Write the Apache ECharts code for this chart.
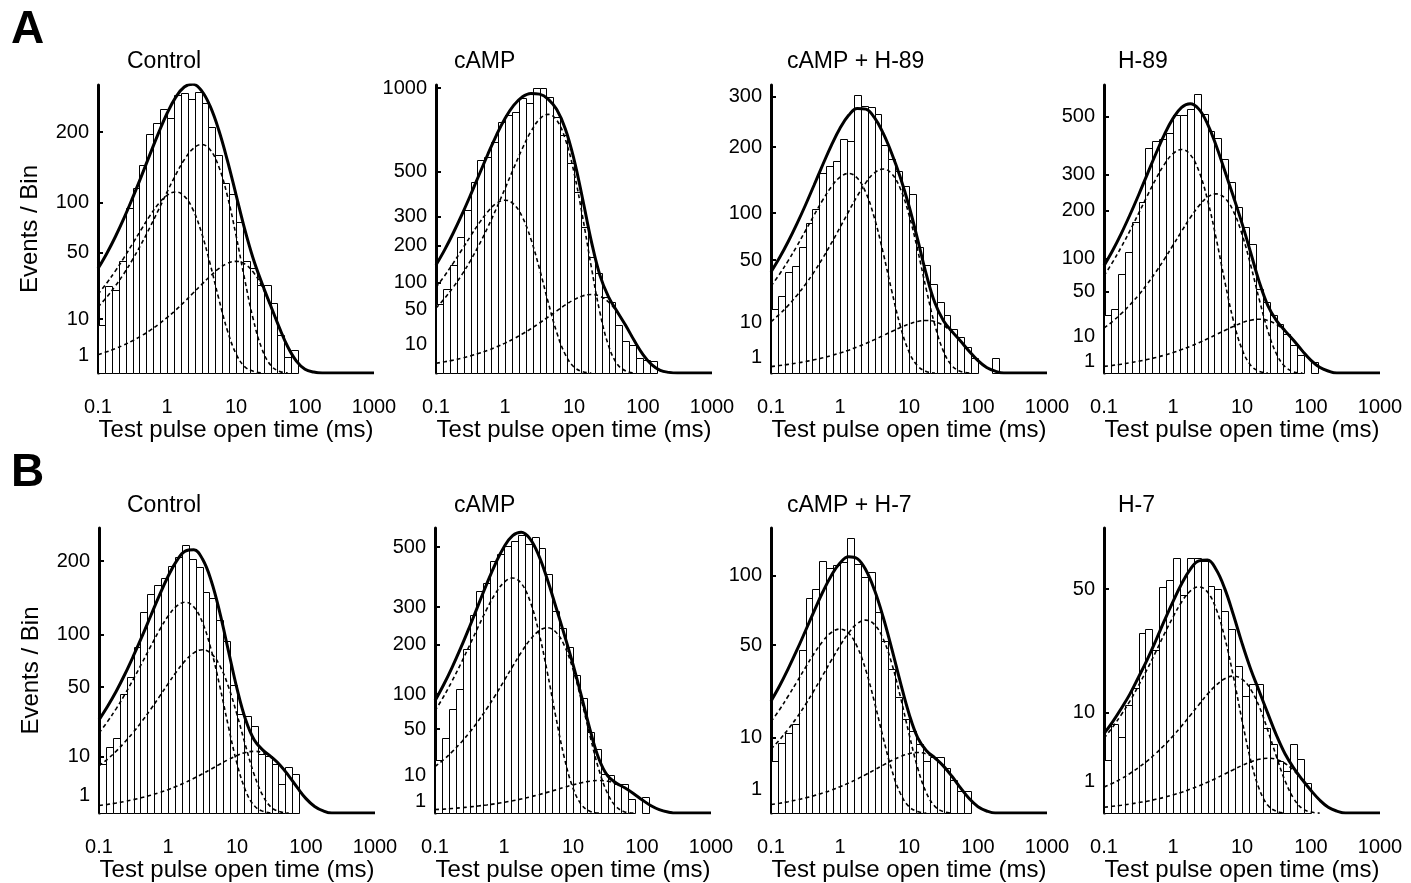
<!DOCTYPE html>
<html><head><meta charset="utf-8">
<script src="https://cdn.jsdelivr.net/npm/echarts/dist/echarts.min.js"></script>
<style>html,body{margin:0;padding:0;background:#fff}#c{width:1411px;height:883px}</style>
</head><body><div id="c"></div>
<script>
// ---------- DATA ----------
// histogram: 10 log-spaced bins per decade, first bin starts at 0.1 ms
const binStart = 0.1;
const binsPerDecade = 10;
const xTickLabels = [0.1, 1, 10, 100, 1000];
// fitted curves read at 1/8-decade steps
const curveTimes = [0.1, 0.1334, 0.1778, 0.2371, 0.3162, 0.4217, 0.5623, 0.7499, 1, 1.334, 1.778, 2.371, 3.162, 4.217, 5.623, 7.499, 10, 13.34, 17.78, 23.71, 31.62, 42.17, 56.23, 74.99, 100, 133.4, 177.8, 237.1, 316.2, 421.7, 562.3, 749.9, 1000];

const titlesA = ['Control', 'cAMP', 'cAMP + H-89', 'H-89'];
const titlesB = ['Control', 'cAMP', 'cAMP + H-7', 'H-7'];

// A: Control
const a1Ticks = [1, 10, 50, 100, 200];
const a1Max = 286;
const a1Bars = [8, 26, 24, 43, 94, 118, 149, 197, 216, 240, 224, 267, 270, 259, 273, 251, 209, 164, 124, 111, 79, 43, 38, 27, 27, 17, 4.9, 0.9, 1.8];
const a1Total = [37.6, 49.1, 63.8, 82.4, 105.4, 132.6, 164.0, 198.0, 232.2, 261.9, 282.1, 287.5, 274.9, 245.4, 203.6, 155.9, 109.8, 71.6, 45.0, 27.9, 15.8, 7.28, 2.37, 0.49, 0.05, 0.003, 0, 0, 0, 0, 0, 0, 0];
const a1Fast = [21.4, 27.8, 35.8, 45.7, 57.5, 70.8, 85.0, 98.4, 108.8, 113, 107.9, 92.3, 68.0, 41.1, 19.1, 6.24, 1.28, 0.14, 0.01, 0, 0, 0, 0, 0, 0, 0, 0, 0, 0, 0, 0, 0, 0];
const a1Mid = [15.0, 19.8, 26.0, 34.0, 44.3, 57.1, 72.8, 91.5, 112.8, 135.3, 156.8, 173.3, 180, 172.0, 147.0, 108.3, 65.5, 30.4, 9.94, 2.03, 0.22, 0.01, 0, 0, 0, 0, 0, 0, 0, 0, 0, 0, 0];
const a1Slow = [1.16, 1.54, 2.04, 2.71, 3.58, 4.73, 6.21, 8.13, 10.6, 13.6, 17.4, 21.9, 26.9, 32.3, 37.5, 41.4, 43, 41.1, 35.1, 25.9, 15.6, 7.27, 2.37, 0.49, 0.05, 0.003, 0, 0, 0, 0, 0, 0, 0];

// A: cAMP
const a2Ticks = [1, 10, 50, 100, 200, 300, 500, 1000];
const a2Max = 1022;
const a2Bars = [59, 86, 143, 228, 327, 450, 558, 576, 659, 778, 820, 841, 934, 896, 1003, 1003, 941, 809, 697, 541, 404, 263, 166, 122, 71, 62, 28, 13, 10, 2.8, 2.0, 1.8];
const a2Total = [143.6, 186.8, 241.5, 308.9, 390, 484.2, 588.3, 696.3, 798, 882.2, 938.8, 963.3, 958.2, 924.8, 855.1, 734.2, 562.5, 373.1, 215.3, 118.1, 71.4, 46.7, 27.75, 12.8, 4.2, 0.86, 0.09, 0.005, 0, 0, 0, 0, 0];
const a2Fast = [90.5, 116.7, 148.9, 187.1, 230.6, 276.7, 320.6, 354.4, 368, 351.5, 300.5, 221.4, 133.9, 62.2, 20.3, 4.16, 0.45, 0.02, 0, 0, 0, 0, 0, 0, 0, 0, 0, 0, 0, 0, 0, 0, 0];
const a2Mid = [51.9, 68.6, 90.6, 119.1, 155.8, 202.7, 261.4, 333.5, 419, 516.3, 619.6, 717.8, 793.5, 824, 787.2, 672.9, 495.8, 299.9, 139.3, 45.5, 9.3, 1.01, 0.05, 0, 0, 0, 0, 0, 0, 0, 0, 0, 0];
const a2Slow = [1.16, 1.54, 2.04, 2.72, 3.61, 4.79, 6.33, 8.35, 11.0, 14.4, 18.7, 24.1, 30.8, 38.6, 47.6, 57.1, 66.2, 73.2, 76, 72.6, 62.1, 45.7, 27.7, 12.8, 4.2, 0.86, 0.09, 0.005, 0, 0, 0, 0, 0];

// A: cAMP + H-89
const a3Ticks = [1, 10, 50, 100, 200, 300];
const a3Max = 325;
const a3Bars = [16, 23, 40, 44.5, 62, 88.5, 105, 156, 168, 176, 214, 210, 303, 280, 277, 263, 204, 180, 160, 137, 125, 62, 46, 31, 20, 13, 7.6, 5, 2.6, 0.9, 0, 0, 0.9];
const a3Total = [40.0, 52.2, 67.7, 87.1, 110.6, 138.5, 169.9, 203.1, 234.7, 260.1, 274.3, 272.8, 255.3, 225.3, 188.9, 149.8, 109.3, 69.9, 38.3, 19.3, 10.7, 6.7, 3.94, 1.83, 0.6, 0.12, 0.013, 0, 0, 0, 0, 0, 0];
const a3Fast = [29.5, 38.4, 49.5, 63.1, 79.3, 97.7, 117.3, 135.9, 150.2, 156, 149, 127.4, 93.9, 56.8, 26.4, 8.61, 1.76, 0.19, 0.01, 0, 0, 0, 0, 0, 0, 0, 0, 0, 0, 0, 0, 0, 0];
const a3Mid = [10.3, 13.6, 17.9, 23.6, 30.8, 40.1, 51.7, 66.0, 82.9, 102.1, 122.6, 142.0, 157, 163, 155.7, 133.1, 98.1, 59.3, 27.5, 9.0, 1.84, 0.2, 0.01, 0, 0, 0, 0, 0, 0, 0, 0, 0, 0];
const a3Slow = [0.16, 0.22, 0.29, 0.39, 0.51, 0.68, 0.90, 1.19, 1.56, 2.04, 2.66, 3.43, 4.37, 5.49, 6.77, 8.12, 9.41, 10.4, 10.8, 10.3, 8.82, 6.5, 3.93, 1.83, 0.60, 0.12, 0.013, 0, 0, 0, 0, 0, 0];

// A: H-89
const a4Ticks = [1, 10, 50, 100, 200, 300, 500];
const a4Max = 631;
const a4Bars = [26, 31, 74, 111, 173, 222, 384, 411, 417, 438, 506, 506, 530, 592, 510, 447, 419, 349, 277, 209, 162, 127, 54, 38, 26, 18.5, 11.7, 5.8, 2.6, 0, 0.9];
const a4Total = [87.6, 114.2, 147.9, 189.9, 240.4, 299.5, 364.9, 432.1, 493.2, 537.1, 551.9, 529.8, 472.5, 393.5, 311.1, 236.8, 170.3, 110.5, 63.2, 34.5, 20.8, 13.5, 8.01, 3.72, 1.21, 0.25, 0.03, 0, 0, 0, 0, 0, 0];
const a4Fast = [71.9, 93.5, 120.5, 153.8, 193.2, 238.1, 285.7, 331.0, 365.9, 380, 363, 310.3, 228.6, 138.3, 64.2, 21.0, 4.29, 0.47, 0.02, 0, 0, 0, 0, 0, 0, 0, 0, 0, 0, 0, 0, 0, 0];
const a4Mid = [15.4, 20.3, 26.8, 35.3, 46.1, 60.0, 77.4, 98.7, 124.1, 152.9, 183.5, 212.5, 235, 244, 233.1, 199.3, 146.8, 88.8, 41.2, 13.5, 2.76, 0.3, 0.01, 0, 0, 0, 0, 0, 0, 0, 0, 0, 0];
const a4Slow = [0.33, 0.44, 0.59, 0.79, 1.05, 1.39, 1.83, 2.42, 3.18, 4.16, 5.41, 6.98, 8.9, 11.2, 13.8, 16.5, 19.2, 21.2, 22, 21.0, 18.0, 13.2, 8.0, 3.72, 1.21, 0.25, 0.03, 0, 0, 0, 0, 0, 0];

// B: Control
const b1Ticks = [1, 10, 50, 100, 200];
const b1Max = 256;
const b1Bars = [7.6, 13.6, 17.8, 44.6, 58, 87, 128, 151, 164, 174.5, 193, 206, 227, 203, 190, 154, 146, 118, 93, 52, 31, 30, 24, 11, 10.4, 7.6, 2.7, 6.6, 4.8];
const b1Total = [27.4, 36.0, 46.8, 60.7, 78.0, 98.6, 122.7, 149.3, 176.3, 200.3, 216.2, 218.4, 203.2, 170.5, 127.0, 83.2, 48.8, 27.4, 16.8, 12.5, 9.9, 7.23, 4.37, 2.03, 0.66, 0.14, 0.015, 0, 0, 0, 0, 0, 0];
const b1Fast = [20.2, 26.5, 34.4, 44.4, 56.7, 71.2, 87.7, 105.3, 122, 134.8, 140, 133.7, 114.3, 84.2, 50.9, 23.7, 7.73, 1.58, 0.17, 0.01, 0, 0, 0, 0, 0, 0, 0, 0, 0, 0, 0, 0, 0];
const b1Mid = [7.0, 9.23, 12.1, 15.9, 20.7, 26.6, 34.0, 42.7, 52.6, 63.2, 73.2, 80.9, 84, 80.2, 68.6, 50.5, 30.6, 14.2, 4.64, 0.95, 0.10, 0.005, 0, 0, 0, 0, 0, 0, 0, 0, 0, 0, 0];
const b1Slow = [0.18, 0.24, 0.32, 0.43, 0.57, 0.76, 1.0, 1.32, 1.73, 2.27, 2.95, 3.81, 4.86, 6.1, 7.52, 9.02, 10.45, 11.6, 12, 11.5, 9.8, 7.22, 4.37, 2.03, 0.66, 0.14, 0.015, 0, 0, 0, 0, 0, 0];

// B: cAMP
const b2Ticks = [1, 10, 50, 100, 200, 300, 500];
const b2Max = 575;
const b2Bars = [20, 39.8, 76.4, 108.5, 190, 279, 350, 375, 448, 475, 503, 522, 548, 512, 541, 497, 404, 288, 243, 194, 134, 94.5, 47, 29, 10.9, 10.5, 5.8, 5.8, 1.44, 0, 1.8];
const b2Total = [89.3, 116.5, 150.9, 193.5, 245.1, 305.2, 371.6, 439.5, 500.9, 544.4, 557.6, 532.9, 471.7, 388.3, 302, 224.7, 156.3, 95.4, 48.3, 20.9, 9.9, 6.42, 4.52, 2.73, 1.27, 0.41, 0.085, 0.009, 0, 0, 0, 0, 0];
const b2Fast = [73.9, 96.2, 124, 158.2, 198.8, 245.0, 294, 340.6, 376.5, 391, 373.5, 319.3, 235.3, 142.3, 66.1, 21.6, 4.42, 0.48, 0.02, 0, 0, 0, 0, 0, 0, 0, 0, 0, 0, 0, 0, 0, 0];
const b2Mid = [15.3, 20.2, 26.7, 35.1, 46.0, 59.8, 77.1, 98.3, 123.6, 152.3, 182.7, 211.7, 234, 243, 232.1, 198.4, 146.2, 88.4, 41.1, 13.4, 2.75, 0.3, 0.01, 0, 0, 0, 0, 0, 0, 0, 0, 0, 0];
const b2Slow = [0.09, 0.11, 0.15, 0.20, 0.27, 0.36, 0.47, 0.62, 0.82, 1.08, 1.42, 1.85, 2.38, 3.04, 3.81, 4.70, 5.64, 6.53, 7.22, 7.5, 7.16, 6.12, 4.51, 2.73, 1.27, 0.41, 0.085, 0.009, 0, 0, 0, 0, 0];

// B: cAMP + H-7
const b3Ticks = [1, 10, 50, 100];
const b3Max = 144;
const b3Bars = [4.9, 8.8, 11.5, 14, 47.4, 81.9, 89, 112.6, 106.8, 109, 112, 133.7, 109.7, 99, 102.8, 72, 52.3, 36.6, 23.9, 15.6, 12, 8.4, 4.9, 5.6, 5.6, 3.6, 1.9, 0.9, 0.9];
const b3Total = [22.2, 28.7, 37.0, 47.0, 58.9, 72.3, 86.6, 100.1, 110.8, 116.4, 114.7, 104.7, 88.1, 68.1, 47.9, 30.3, 17.5, 10.1, 6.96, 5.39, 3.91, 2.37, 1.1, 0.36, 0.073, 0.008, 0, 0, 0, 0, 0, 0, 0];
const b3Fast = [14.8, 19.0, 24.3, 30.5, 37.6, 45.1, 52.3, 57.8, 60, 57.3, 49, 36.1, 21.8, 10.1, 3.31, 0.68, 0.074, 0.004, 0, 0, 0, 0, 0, 0, 0, 0, 0, 0, 0, 0, 0, 0, 0];
const b3Mid = [7.25, 9.54, 12.5, 16.2, 20.9, 26.7, 33.6, 41.4, 49.6, 57.5, 63.6, 66, 63.0, 53.9, 39.7, 24.0, 11.2, 3.64, 0.75, 0.08, 0.004, 0, 0, 0, 0, 0, 0, 0, 0, 0, 0, 0, 0];
const b3Slow = [0.13, 0.17, 0.23, 0.31, 0.41, 0.54, 0.71, 0.94, 1.23, 1.60, 2.06, 2.63, 3.31, 4.07, 4.89, 5.66, 6.26, 6.5, 6.21, 5.31, 3.91, 2.37, 1.10, 0.36, 0.073, 0.008, 0, 0, 0, 0, 0, 0, 0];

// B: H-7
const b4Ticks = [1, 10, 50];
const b4Max = 81;
const b4Bars = [2.8, 7.9, 5.8, 11.7, 15.7, 32.4, 33.6, 26.4, 50.8, 54.1, 64.8, 47.6, 65.1, 65.1, 63.5, 51.3, 49.9, 40.6, 33.6, 21.6, 13.7, 16.5, 16.5, 7.3, 4.75, 2.74, 1.8, 4.75, 2.9, 0.9];
const b4Total = [6.3, 8.31, 10.9, 14.1, 18.4, 23.4, 29.6, 36.9, 44.6, 52.4, 59.2, 63.4, 63.8, 59.1, 50.2, 39.2, 28.8, 20.7, 14.8, 9.86, 6.03, 3.48, 2.02, 1.11, 0.51, 0.17, 0.034, 0.004, 0, 0, 0, 0, 0];
const b4Fast = [5.6, 7.37, 9.64, 12.5, 16.2, 20.6, 25.9, 32.0, 38.3, 44.4, 49.1, 51, 48.7, 41.6, 30.7, 18.6, 8.62, 2.82, 0.58, 0.06, 0.003, 0, 0, 0, 0, 0, 0, 0, 0, 0, 0, 0, 0];
const b4Mid = [0.67, 0.89, 1.18, 1.56, 2.06, 2.70, 3.54, 4.60, 5.93, 7.57, 9.51, 11.7, 14.1, 16.3, 18.0, 18.7, 17.9, 15.3, 11.3, 6.8, 3.16, 1.03, 0.21, 0.02, 0.001, 0, 0, 0, 0, 0, 0, 0, 0];
const b4Slow = [0.034, 0.046, 0.061, 0.081, 0.11, 0.14, 0.19, 0.25, 0.33, 0.43, 0.57, 0.74, 0.95, 1.21, 1.53, 1.88, 2.26, 2.61, 2.89, 3, 2.87, 2.45, 1.81, 1.09, 0.51, 0.17, 0.034, 0.004, 0, 0, 0, 0, 0];

// ---------- LAYOUT ----------
const FONT = "'Liberation Sans', Arial, Helvetica, sans-serif";
const panels = [
  {title: titlesA[0], bars: a1Bars, total: a1Total, comps: [a1Fast, a1Mid, a1Slow], ticks: a1Ticks, ymax: a1Max},
  {title: titlesA[1], bars: a2Bars, total: a2Total, comps: [a2Fast, a2Mid, a2Slow], ticks: a2Ticks, ymax: a2Max},
  {title: titlesA[2], bars: a3Bars, total: a3Total, comps: [a3Fast, a3Mid, a3Slow], ticks: a3Ticks, ymax: a3Max},
  {title: titlesA[3], bars: a4Bars, total: a4Total, comps: [a4Fast, a4Mid, a4Slow], ticks: a4Ticks, ymax: a4Max},
  {title: titlesB[0], bars: b1Bars, total: b1Total, comps: [b1Fast, b1Mid, b1Slow], ticks: b1Ticks, ymax: b1Max},
  {title: titlesB[1], bars: b2Bars, total: b2Total, comps: [b2Fast, b2Mid, b2Slow], ticks: b2Ticks, ymax: b2Max},
  {title: titlesB[2], bars: b3Bars, total: b3Total, comps: [b3Fast, b3Mid, b3Slow], ticks: b3Ticks, ymax: b3Max},
  {title: titlesB[3], bars: b4Bars, total: b4Total, comps: [b4Fast, b4Mid, b4Slow], ticks: b4Ticks, ymax: b4Max}
];
const layout = [
  {left: 98, top: 85, height: 288, titleX: 127, titleY: 62},
  {left: 436, top: 85, height: 288, titleX: 454, titleY: 62},
  {left: 771, top: 85, height: 288, titleX: 787, titleY: 62},
  {left: 1104, top: 85, height: 288, titleX: 1118, titleY: 62},
  {left: 99, top: 528, height: 286, titleX: 127, titleY: 506},
  {left: 435, top: 528, height: 286, titleX: 454, titleY: 506},
  {left: 771, top: 528, height: 286, titleX: 787, titleY: 506},
  {left: 1104, top: 528, height: 286, titleX: 1118, titleY: 506}
];
const PLOT_W = 276;

function binEdge(k) { return binStart * Math.pow(10, k / binsPerDecade); }

function renderBar(params, api) {
  const h = api.value(2);
  if (!(h > 0)) return null;
  const p0 = api.coord([api.value(0), h]);
  const p1 = api.coord([api.value(1), 0]);
  return {
    type: 'rect',
    shape: {x: Math.round(p0[0]) + 0.5, y: Math.round(p0[1]) + 0.5, width: Math.round(p1[0]) - Math.round(p0[0]), height: Math.round(p1[1]) - Math.round(p0[1])},
    style: {fill: '#fff', stroke: '#000', lineWidth: 1}
  };
}

function curvePoints(vals, trim) {
  const pts = curveTimes.map((t, k) => [t, Math.sqrt(vals[k])]);
  if (!trim) return pts;
  let peak = 0;
  vals.forEach((v, k) => { if (v > vals[peak]) peak = k; });
  let end = pts.length;
  for (let k = peak; k < vals.length; k++) { if (vals[k] === 0) { end = k + 1; break; } }
  return pts.slice(0, end);
}

const grid = [], xAxis = [], yAxis = [], series = [], graphic = [];
panels.forEach((p, i) => {
  const L = layout[i];
  grid.push({left: L.left, top: L.top, width: PLOT_W, height: L.height});
  xAxis.push({
    gridIndex: i, type: 'log', logBase: 10, min: 0.1, max: 1000,
    axisLine: {show: false}, axisTick: {show: false}, splitLine: {show: false},
    axisLabel: {
      fontSize: 20, color: '#000', fontFamily: FONT, margin: 24,
      formatter: v => { const e = Math.round(Math.log10(v)); const m = xTickLabels.find(x => Math.round(Math.log10(x)) === e); return m === undefined ? '' : String(m); }
    },
    name: 'Test pulse open time (ms)', nameLocation: 'middle', nameGap: 44,
    nameTextStyle: {fontSize: 24, color: '#000', fontFamily: FONT}
  });
  const tv = p.ticks.map(Math.sqrt);
  yAxis.push({
    gridIndex: i, type: 'value', min: 0, max: Math.sqrt(p.ymax),
    axisLine: {show: true, onZero: false, lineStyle: {color: '#000', width: 3}},
    axisTick: {show: true, inside: true, length: 5, customValues: tv, lineStyle: {color: '#000', width: 2}},
    axisLabel: {customValues: tv, fontSize: 20, color: '#000', fontFamily: FONT, margin: 9,
      formatter: v => String(Math.round(v * v))},
    splitLine: {show: false},
    name: (i % 4 === 0) ? 'Events / Bin' : '', nameLocation: 'middle', nameRotate: 90, nameGap: 56,
    nameTextStyle: {fontSize: 24, color: '#000', fontFamily: FONT}
  });
  series.push({
    type: 'custom', xAxisIndex: i, yAxisIndex: i, renderItem: renderBar, silent: true, z: 1,
    encode: {x: [0, 1], y: 2},
    data: p.bars.map((c, k) => [binEdge(k), binEdge(k + 1), Math.sqrt(c)])
  });
  p.comps.forEach(c => {
    series.push({
      type: 'line', xAxisIndex: i, yAxisIndex: i, data: curvePoints(c, true), smooth: 0.4,
      symbol: 'none', silent: true, z: 2,
      lineStyle: {color: '#000', width: 1.6, type: [4, 3]}
    });
  });
  series.push({
    type: 'line', xAxisIndex: i, yAxisIndex: i, data: curvePoints(p.total, false), smooth: 0.4,
    symbol: 'none', silent: true, z: 3,
    lineStyle: {color: '#000', width: 3}
  });
  graphic.push({type: 'text', left: L.titleX, top: L.titleY - 12,
    style: {text: p.title, font: '23px ' + FONT, fill: '#000'}});
});
graphic.push({type: 'text', left: 11, top: 7, style: {text: 'A', font: 'bold 46px ' + FONT, fill: '#000'}});
graphic.push({type: 'text', left: 11, top: 450, style: {text: 'B', font: 'bold 46px ' + FONT, fill: '#000'}});

const chart = echarts.init(document.getElementById('c'), null, {renderer: 'canvas'});
chart.setOption({animation: false, backgroundColor: '#fff', grid, xAxis, yAxis, series, graphic});
</script>
</body></html>
